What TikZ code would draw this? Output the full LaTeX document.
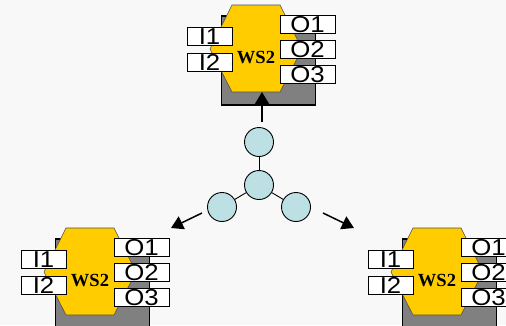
\documentclass[tikz,border=0pt]{standalone}
\usepackage{fontspec}
\setmainfont{Liberation Sans}
\newfontfamily\wsfont{Liberation Serif}
\usetikzlibrary{arrows.meta}

\definecolor{bg}{HTML}{F8F8F8}
\definecolor{wsyellow}{HTML}{FFCC00}
\definecolor{wsgray}{HTML}{808080}
\definecolor{nodeblue}{HTML}{BCE0E3}

\newcommand\widelabel[1]{\scalebox{1.12}[1]{#1}}

\tikzset{
  frame/.style={draw=black, line width=1.1pt, fill=wsgray, inner sep=0pt},
  hexbody/.style={draw=black!70, line width=0.6pt, fill=wsyellow},
  wslabel/.style={inner sep=0pt, font=\fontsize{18.5}{18.5}\selectfont\wsfont\bfseries},
  port/.style={draw=black, line width=0.9pt, fill=white, inner sep=0pt,
    minimum height=18pt, text depth=0pt, font=\fontsize{23}{23}\selectfont},
  inport/.style={port, minimum width=45pt},
  outport/.style={port, minimum width=55pt},
  hub/.style={circle, draw=black, line width=0.9pt, fill=nodeblue,
    minimum size=29pt, inner sep=0pt},
  link/.style={line width=0.9pt},
  flow/.style={line width=1.5pt, -{Triangle[length=12pt,width=14pt]}},
  pics/wsblock/.style={code={
    \node[frame, minimum width=94pt, minimum height=89pt] (-frame) at (268.5,60.5) {};
    \draw[hexbody] (232,5) -- (280,5) -- (302,49) -- (280,92)
      -- (232,92) -- (210,49) -- cycle;
    \node[wslabel] (-name) at (256,57.5) {WS2};
    \node[inport] (-i1) at (209.5,36.5) {\widelabel{I1}};
    \node[inport] (-i2) at (209.5,62.5) {\widelabel{I2}};
    \node[outport] (-o1) at (307.5,24.5) {\widelabel{O1}};
    \node[outport] (-o2) at (307.5,49.5) {\widelabel{O2}};
    \node[outport] (-o3) at (307.5,74.5) {\widelabel{O3}};
  }}
}

\begin{document}
\begin{tikzpicture}[x=1pt,y=-1pt]
  \fill[bg] (0,0) rectangle (506,325);
  \useasboundingbox (0,0) rectangle (506,325);
  \clip (0,0) rectangle (506,325);

  % three service blocks
  \pic (top) at (0,0) {wsblock};
  \pic (left) at (-166,223) {wsblock};
  \pic (right) at (181,223) {wsblock};

  % distribution hub
  \node[hub] (hc) at (259,185) {};
  \node[hub] (ht) at (259,142) {};
  \node[hub] (hl) at (222,207) {};
  \node[hub] (hr) at (296,207) {};
  \draw[link] (hc) -- (ht);
  \draw[link] (hc) -- (hl);
  \draw[link] (hc) -- (hr);

  % outgoing flows
  \coordinate (ts) at (262,122);
  \coordinate (te) at (262,92);
  \coordinate (ls) at (202,213);
  \coordinate (le) at (171,228);
  \coordinate (rs) at (323,213);
  \coordinate (re) at (354,228);
  \draw[flow] (ts) -- (te);
  \draw[flow] (ls) -- (le);
  \draw[flow] (rs) -- (re);
\end{tikzpicture}
\end{document}
